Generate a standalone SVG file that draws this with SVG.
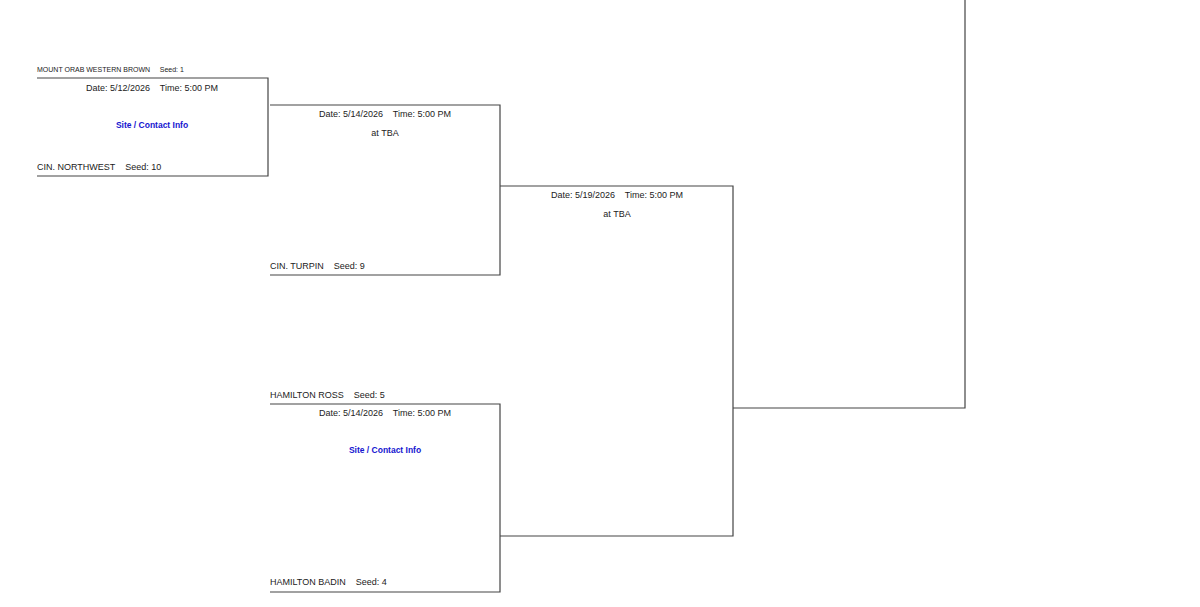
<svg xmlns="http://www.w3.org/2000/svg" width="1200" height="607" viewBox="0 0 1200 607" xml:space="preserve">
<style>
.l{fill:none;stroke:#444;stroke-width:1.2}
text{font-family:"Liberation Sans",Arial,sans-serif;font-size:9px;fill:#222;white-space:pre}
.s{font-size:7px}
.c{text-anchor:middle}
.b{fill:#1515d0;font-weight:bold;font-size:8.5px}
</style>
<rect width="1200" height="607" fill="#fff"/>
<g id="connectors">
<path class="l" d="M37 78H268V176H37"/>
<path class="l" d="M270 105H500V275H270"/>
<path class="l" d="M500 186H733V536H500"/>
<path class="l" d="M270 404H500V592H270"/>
<path class="l" d="M733 408H965V0"/>
</g>
<g id="game1">
<text class="s" x="37" y="72">MOUNT ORAB WESTERN BROWN     Seed: 1</text>
<text class="c" x="152" y="91">Date: 5/12/2026    Time: 5:00 PM</text>
<text class="c b" x="152" y="128">Site / Contact Info</text>
<text x="37" y="170">CIN. NORTHWEST    Seed: 10</text>
</g>
<g id="game2">
<text class="c" x="385" y="117">Date: 5/14/2026    Time: 5:00 PM</text>
<text class="c" x="385" y="136">at TBA</text>
<text x="270" y="269">CIN. TURPIN    Seed: 9</text>
</g>
<g id="game3">
<text class="c" x="617" y="198">Date: 5/19/2026    Time: 5:00 PM</text>
<text class="c" x="617" y="217">at TBA</text>
</g>
<g id="game4">
<text x="270" y="398">HAMILTON ROSS    Seed: 5</text>
<text class="c" x="385" y="416">Date: 5/14/2026    Time: 5:00 PM</text>
<text class="c b" x="385" y="453">Site / Contact Info</text>
<text x="270" y="585">HAMILTON BADIN    Seed: 4</text>
</g>
</svg>
